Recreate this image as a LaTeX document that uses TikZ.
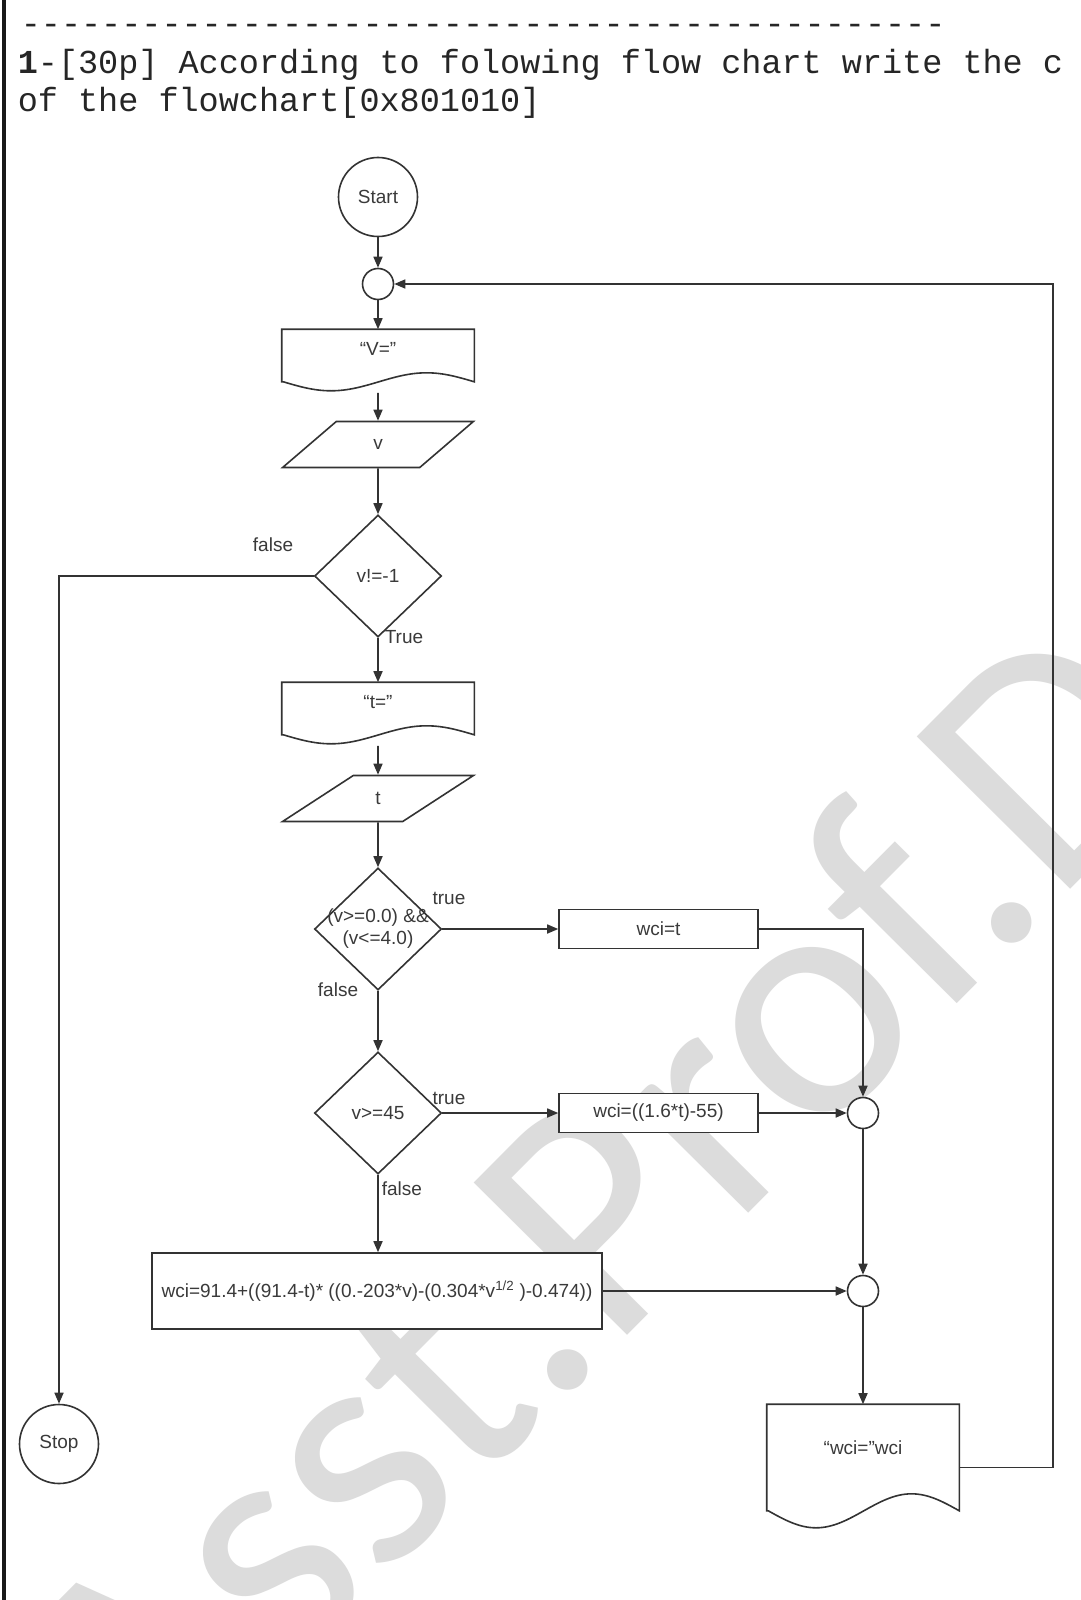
\documentclass[tikz,border=0pt]{standalone}
\usepackage{fontspec}
\setmainfont{Liberation Sans}
\setmonofont{Liberation Mono}
\newfontfamily\markfont{Carlito}
\usetikzlibrary{shapes.geometric,arrows.meta}
\definecolor{ink}{HTML}{3A3A3A}
\definecolor{wmark}{HTML}{DCDCDC}

\tikzset{
  every node/.style={text=ink, font=\fontsize{19}{22}\selectfont},
  term/.style={circle, draw, fill=white, minimum size=79pt, inner sep=0pt},
  junction/.style={circle, draw, fill=white, minimum size=31pt, inner sep=0pt},
  doc/.style={rectangle, minimum width=191pt, minimum height=62pt, inner sep=0pt,
    text height=8pt, text depth=20pt},
  io/.style={trapezium, trapezium left angle=58.7, trapezium right angle=121.3,
    trapezium stretches=true, draw, fill=white, minimum width=191pt, minimum height=46pt, inner sep=0pt},
  decision/.style={diamond, draw, fill=white, minimum width=127pt, minimum height=122pt, inner sep=0pt},
  process/.style={rectangle, draw, fill=white, minimum width=199pt, minimum height=39pt, inner sep=0pt},
  flow/.style={-{Triangle[length=11pt,width=9pt]}},
  lbl/.style={inner sep=0pt},
  heading/.style={inner sep=0pt, anchor=base west, text=black!85,
    font=\fontsize{33.5}{38}\selectfont\ttfamily}
}

\begin{document}
\begin{tikzpicture}[x=1pt, y=-1pt, line width=1.6pt, draw=black!80]
\useasboundingbox (0,0) rectangle (1080,1600);
\fill[white] (0,0) rectangle (1080,1600);

% watermark
\node[text=wmark, font=\fontsize{337}{337}\selectfont\markfont, inner sep=0pt,
  rotate=45.2, anchor=base west] (wm) at (150,1816) {Asst.Prof.D};

% page edge and question
\draw[line width=3.5pt, black!90] (4,0) -- (4,1600);
\node[heading] (rule) at (20,35) {----------------------------------------------};
\node[heading] (q1) at (17,74) {\textbf{1}-[30p] According to folowing flow chart write the c};
\node[heading] (q2) at (17,112) {of the flowchart[0x801010]};

% flowchart
\node[term] (start) at (378,197) {Start};
\node[junction] (j1) at (378,284) {};
\node[doc] (vq) at (378,361) {“V=”};
\node[io] (vin) at (378,444.5) {v};
\node[decision] (d1) at (378,576) {v!=-1};
\node[doc] (tq) at (378,714) {“t=”};
\node[io] (tin) at (378,798.5) {t};
\node[decision, label={[align=center, inner sep=0pt]center:(v>=0.0) \&\&\\(v<=4.0)}] (d2) at (378,929) {};
\node[process] (p1) at (658.5,929) {wci=t};
\node[decision] (d3) at (378,1113) {v>=45};
\node[process] (p2) at (658.5,1113) {wci=((1.6*t)-55)};
\node[junction] (j2) at (863,1113) {};
\node[process, minimum width=450pt, minimum height=76pt] (p3) at (377,1291)
  {wci=91.4+((91.4-t)* ((0.-203*v)-(0.304*v\textsuperscript{1/2} )-0.474))};
\node[junction] (j3) at (863,1291) {};
\node[doc, minimum height=125pt, text depth=34pt] (wq) at (863,1467.5) {“wci=”wci};
\node[term] (stop) at (59,1444) {Stop};
\coordinate (back) at (1053,1467.5);

% document outlines
\foreach \n/\s/\a in {vq/11/9, tq/11/9, wq/20/17} {
  \draw ([yshift=\s pt]\n.south west) -- (\n.north west) -- (\n.north east)
    -- ([yshift=\s pt]\n.south east) sin ++(-47.75,-\a) cos ++(-47.75,\a)
    sin ++(-47.75,\a) cos ++(-47.75,-\a) -- cycle;
}

% labels
\node[lbl] (f1) at (273,545) {false};
\node[lbl, anchor=west] (t1) at (384,637) {True};
\node[lbl] (t2) at (449,898) {true};
\node[lbl] (f2) at (338,990) {false};
\node[lbl] (t3) at (449,1098) {true};
\node[lbl, anchor=west] (f3) at (381,1189) {false};

% connectors
\draw[flow] (start) -- (j1);
\draw[flow] (j1) -- (vq);
\draw[flow] (vq) -- (vin);
\draw[flow] (vin) -- (d1);
\draw[flow] (d1) -- (tq);
\draw[flow] (tq) -- (tin);
\draw[flow] (tin) -- (d2);
\draw[flow] (d2) -- (p1);
\draw[flow] (d2) -- (d3);
\draw[flow] (d3) -- (p2);
\draw[flow] (d3.south) -- (d3.south |- p3.north);
\draw[flow] (p1) -| (j2);
\draw[flow] (p2) -- (j2);
\draw[flow] (j2) -- (j3);
\draw[flow] (p3) -- (j3);
\draw[flow] (j3) -- (wq);
\draw[flow] (d1.west) -| (stop);
\draw[flow] (wq.east) -- (back) |- (j1.east);
\end{tikzpicture}
\end{document}
